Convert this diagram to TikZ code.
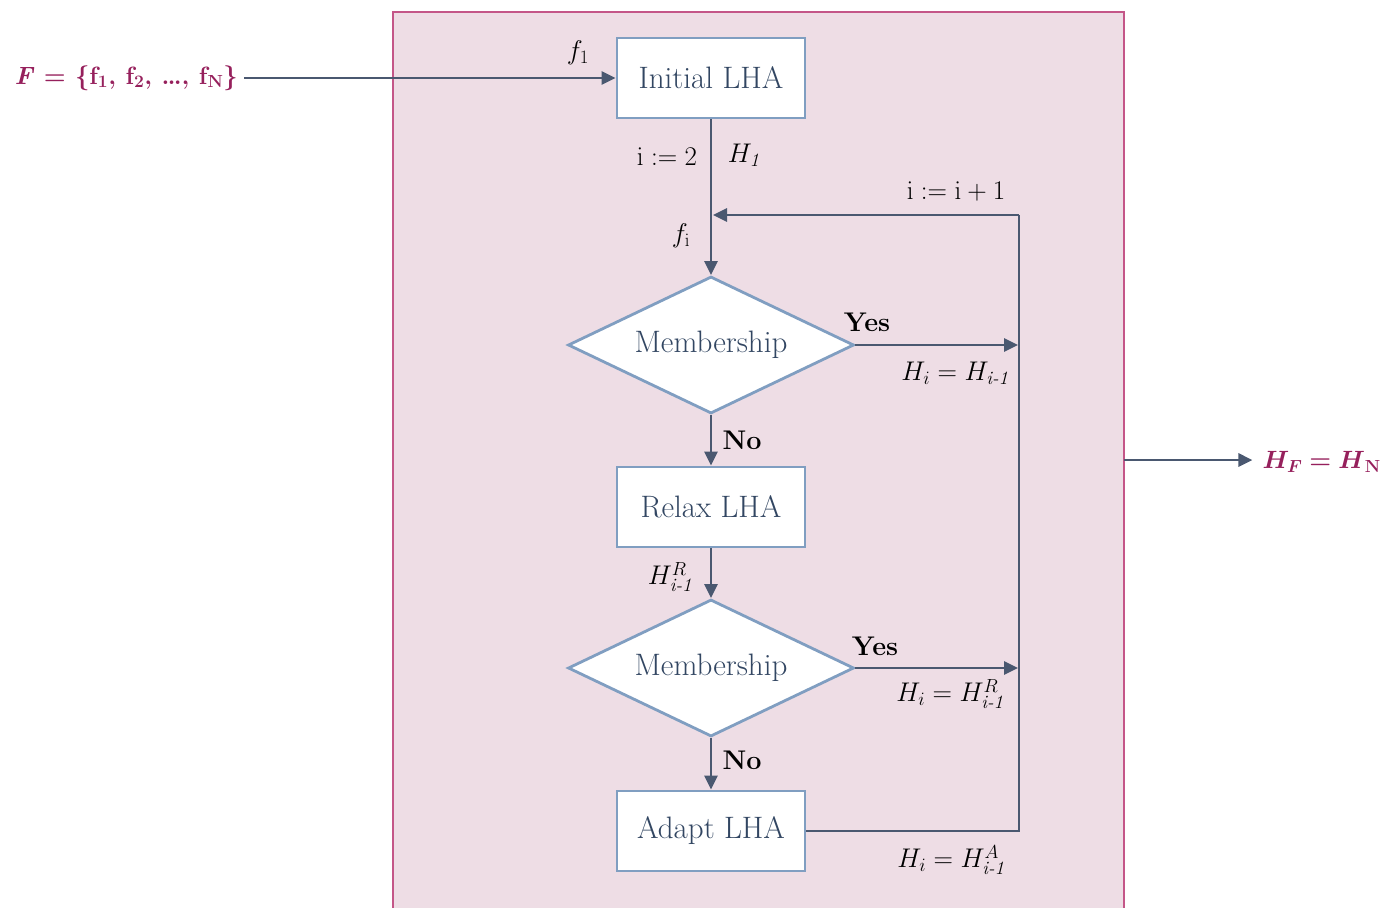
\RequirePackage{fix-cm}
\documentclass[tikz,border=0pt]{standalone}
\usepackage{amsmath}
\usetikzlibrary{shapes.geometric,arrows.meta}
\definecolor{bgfill}{RGB}{238,221,229}
\definecolor{bgline}{RGB}{196,86,136}
\definecolor{boxline}{RGB}{128,158,193}
\definecolor{conn}{RGB}{74,88,112}
\definecolor{nodetext}{RGB}{50,70,98}
\definecolor{magen}{RGB}{150,32,92}
\newcommand{\settext}{\fontsize{31}{35}\selectfont}
\newcommand{\labtext}{\fontsize{27}{31}\selectfont}
\newcommand{\magtext}{\fontsize{25}{29}\selectfont}
\tikzset{
  procbox/.style={draw=boxline, fill=white, line width=2.8pt, minimum width=188pt, minimum height=80pt, inner sep=0pt, text=nodetext, font=\settext},
  decbox/.style={diamond, aspect=2.09, draw=boxline, fill=white, line width=2.8pt, minimum width=286pt, minimum height=137pt, inner sep=0pt, text=nodetext, font=\settext},
  conline/.style={draw=conn, line width=2.8pt},
  conarrow/.style={conline, -{Triangle[length=14pt,width=13pt]}},
  lab/.style={font=\labtext, inner sep=0pt},
  blab/.style={font=\labtext\bfseries, inner sep=0pt},
  maglab/.style={font=\magtext\bfseries, text=magen, inner sep=0pt}
}
\begin{document}
\begin{tikzpicture}[x=1pt,y=-1pt]
\useasboundingbox (0,0) rectangle (1383,907);
% background panel
\fill[bgfill] (393,12) rectangle (1124,910);
\draw[bgline, line width=1.6pt] (393,910) -- (393,12) -- (1124,12) -- (1124,910);

% nodes
\node[procbox] (init) at (711,78) {Initial LHA};
\node[decbox] (mem1) at (711,345) {Membership};
\node[procbox] (relax) at (711,507) {Relax LHA};
\node[decbox] (mem2) at (711,668) {Membership};
\node[procbox] (adapt) at (711,831) {Adapt LHA};

\node[maglab, anchor=east] (inF) at (238,78) {\textit{F} = $\boldsymbol{\{}$f$_{\mathbf{1}}$, f$_{\mathbf{2}}$, \ldots, f$_{\mathbf{N}}$$\boldsymbol{\}}$};
\node[maglab, anchor=east] (outH) at (1381,462) {$\boldsymbol{H_F} \boldsymbol{=} \boldsymbol{H}_{\mathbf{N}}$};

\coordinate (join) at (711,215);
\coordinate (tr) at (1019,215);
\coordinate (y1) at (1019,345);
\coordinate (y2) at (1019,668);
\coordinate (br) at (1019,831);
\coordinate (outs) at (1124,460);

% connectors
\draw[conarrow] ([xshift=6pt]inF.east) -- (init.west);
\draw[conarrow] (init.south) -- (mem1.north);
\draw[conarrow] (tr) -- ([xshift=2pt]join);
\draw[conarrow] (mem1.east) -- ([xshift=-1pt]y1);
\draw[conarrow] (mem1.south) -- (relax.north);
\draw[conarrow] (relax.south) -- (mem2.north);
\draw[conarrow] (mem2.east) -- ([xshift=-1pt]y2);
\draw[conarrow] (mem2.south) -- (adapt.north);
\draw[conline] (adapt.east) -- (br) -- (tr);
\draw[conarrow] (outs) -- ([xshift=-10pt]outs -| outH.west);

% labels
\node[lab] (lf1) at (578,53) {$f_{\mathrm{1}}$};
\node[lab] (li2) at (667,157) {$\mathrm{i} := 2$};
\node[lab] (lh1) at (745,155) {$H_{\mathit{1}}$};
\node[lab] (lfi) at (681,236) {$f_{\mathrm{i}}$};
\node[lab] (lii) at (956,191) {$\mathrm{i} := \mathrm{i} + 1$};
\node[blab] (yes1) at (867,322) {Yes};
\node[lab] (eq1) at (955,373) {$H_i = H_{\textit{i-1}}$};
\node[blab] (no1) at (742,440) {No};
\node[lab] (lhr) at (670,577) {$H^{R}_{\textit{i-1}}$};
\node[blab] (yes2) at (875,646) {Yes};
\node[lab] (eq2) at (950,694) {$H_i = H^{R}_{\textit{i-1}}$};
\node[blab] (no2) at (742,760) {No};
\node[lab] (eq3) at (951,860) {$H_i = H^{A}_{\textit{i-1}}$};
\end{tikzpicture}
\end{document}
